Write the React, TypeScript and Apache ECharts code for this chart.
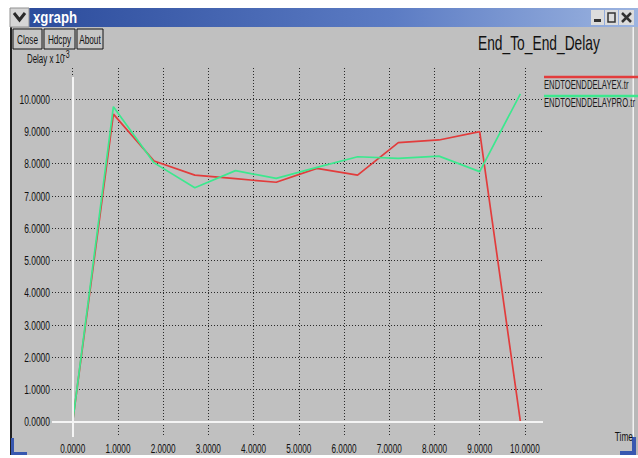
import React, { useEffect, useRef } from "react";
import * as echarts from "echarts";

// ---- data ----
const times = [0, 0.9, 1.8, 2.7, 3.6, 4.5, 5.4, 6.3, 7.2, 8.1, 9.0, 9.9];
const delayEX = [0, 9.53, 8.08, 7.64, 7.53, 7.42, 7.85, 7.64, 8.65, 8.73, 8.99, 0];
const delayPRO = [0, 9.76, 8.02, 7.25, 7.78, 7.54, 7.88, 8.21, 8.16, 8.23, 7.75, 10.16];
const seriesNames = ["ENDTOENDDELAYEX.tr", "ENDTOENDDELAYPRO.tr"];
const seriesColors = ["#e23c3c", "#3ce88e"];
const xTicks = [0, 1, 2, 3, 4, 5, 6, 7, 8, 9, 10];
const yTicks = [0, 1, 2, 3, 4, 5, 6, 7, 8, 9, 10];
const buttonLabels = ["Close", "Hdcpy", "About"];
const chartTitle = "End_To_End_Delay";
const windowTitle = "xgraph";
const xName = "Time";
const yName = "Delay x 10";
const yNameExp = "-3";

const FONT = "'Liberation Sans', Arial, sans-serif";
const NARROW = 0.7;

export default function App() {
  const ref = useRef<HTMLDivElement>(null);

  useEffect(() => {
    if (!ref.current) return;
    const chart = echarts.init(ref.current, undefined, { renderer: "svg" });

    const xMin = -0.458;
    const xMax = 10.4;
    const yMin = -0.474;
    const yMax = 10.96;
    const gridLeft = 52;
    const gridBottom = 21;
    const H = 458;

    const splitStyle = { color: "#2a2a2a", width: 1, type: [1, 2] as any };

    chart.setOption({
      animation: false,
      backgroundColor: "#c0c0c0",
      textStyle: { fontFamily: FONT },
      grid: { left: gridLeft, right: 95, top: 68, bottom: gridBottom, containLabel: false },
      xAxis: {
        type: "value",
        min: xMin,
        max: xMax,
        axisLine: { show: false },
        axisTick: { show: false, customValues: xTicks },
        axisLabel: { show: false, customValues: xTicks },
        splitLine: { show: true, lineStyle: splitStyle },
      },
      yAxis: {
        type: "value",
        min: yMin,
        max: yMax,
        axisLine: { show: false },
        axisTick: { show: false, customValues: yTicks },
        axisLabel: { show: false, customValues: yTicks },
        splitLine: { show: true, lineStyle: splitStyle },
      },
      series: [
        {
          type: "line",
          data: [],
          z: 1,
          silent: true,
          markLine: {
            silent: true,
            symbol: "none",
            label: { show: false },
            lineStyle: { color: "#f4f4f4", type: "solid", width: 2 },
            data: [
              { yAxis: 0 },
              [{ coord: [0, yMin] }, { coord: [0, 10.68] }],
            ],
          },
        },
        ...seriesNames.map((name, i) => ({
          name,
          type: "line",
          z: 3,
          data: times.map((t, j) => [t, i === 0 ? delayEX[j] : delayPRO[j]]),
          symbol: "none",
          lineStyle: { color: seriesColors[i], width: 1.7 },
        })),
      ],
    });

    const narrowText = (text: string, x: number, y: number, size: number, align: string, scale = NARROW, extra: any = {}) => ({
      type: "text",
      x,
      y,
      scaleX: scale,
      z: 50,
      style: { text, fill: "#111111", font: `${size}px ${FONT}`, align, verticalAlign: "middle", ...extra },
    });

    const btnX = [13, 44, 77];
    const btnW = [29, 31, 26];

    const graphic: any[] = [
      // page white margins
      { type: "rect", shape: { x: 0, y: 0, width: 638, height: 8 }, style: { fill: "#ffffff" } },
      { type: "rect", shape: { x: 0, y: 0, width: 10, height: 458 }, style: { fill: "#ffffff" } },
      { type: "rect", shape: { x: 0, y: 455, width: 638, height: 3 }, style: { fill: "#ffffff" } },
      // left frame
      { type: "rect", shape: { x: 10, y: 27, width: 2, height: 428 }, style: { fill: "#202020" } },
      // right frame
      { type: "rect", shape: { x: 632.5, y: 27, width: 1.5, height: 428 }, style: { fill: "#f2f2f2" } },
      { type: "rect", shape: { x: 634, y: 27, width: 4, height: 428 }, style: { fill: "#b8b8b8" } },
      // title bar
      {
        type: "rect",
        shape: { x: 29, y: 8, width: 609, height: 19 },
        style: {
          fill: {
            type: "linear", x: 0, y: 0, x2: 1, y2: 0,
            colorStops: [
              { offset: 0, color: "#2c4c9c" },
              { offset: 0.6, color: "#5c7cc4" },
              { offset: 1, color: "#9cb4e0" },
            ],
          },
        },
      },
      { type: "rect", shape: { x: 10, y: 8, width: 19, height: 19 }, style: { fill: "#d6d6d6", stroke: "#909090", lineWidth: 1 } },
      { type: "polyline", shape: { points: [[14, 13], [19.5, 20], [25, 13]] }, style: { stroke: "#2a2a2a", lineWidth: 3, fill: "none" } },
      narrowText(windowTitle, 33, 17, 17, "left", 0.78, { fill: "#ffffff", font: `bold 17px ${FONT}` }),
      // window buttons
      { type: "rect", shape: { x: 591, y: 10, width: 13, height: 15 }, style: { fill: "#dcdcdc" } },
      { type: "rect", shape: { x: 605, y: 10, width: 13, height: 15 }, style: { fill: "#dcdcdc" } },
      { type: "rect", shape: { x: 619, y: 10, width: 15, height: 15 }, style: { fill: "#dcdcdc" } },
      { type: "rect", shape: { x: 594, y: 19, width: 7, height: 3 }, style: { fill: "#333333" } },
      { type: "rect", shape: { x: 608, y: 13, width: 7, height: 9 }, style: { fill: "none", stroke: "#333333", lineWidth: 1.5 } },
      { type: "line", shape: { x1: 622, y1: 13, x2: 631, y2: 22 }, style: { stroke: "#333333", lineWidth: 2.5 } },
      { type: "line", shape: { x1: 631, y1: 13, x2: 622, y2: 22 }, style: { stroke: "#333333", lineWidth: 2.5 } },
      // bottom resize corners
      { type: "rect", shape: { x: 11, y: 438, width: 3, height: 17 }, style: { fill: "#3858b0" } },
      { type: "rect", shape: { x: 11, y: 452, width: 16, height: 3 }, style: { fill: "#3858b0" } },
      { type: "rect", shape: { x: 632, y: 437, width: 4, height: 18 }, style: { fill: "#3858b0" } },
      { type: "rect", shape: { x: 620, y: 451, width: 16, height: 4 }, style: { fill: "#3858b0" } },
      // titles
      narrowText(chartTitle, 478, 43, 20, "left", 0.69),
      narrowText(yName, 27, 59, 12, "left", 0.66),
      narrowText(yNameExp, 27 + 0.66 * 55, 55, 10, "left", 0.7),
      narrowText(xName, 633, 436, 13, "right", 0.64),
    ];

    buttonLabels.forEach((label, i) => {
      graphic.push({
        type: "rect",
        shape: { x: btnX[i], y: 29, width: btnW[i], height: 20 },
        style: { fill: "#c6c6c6", stroke: "#151515", lineWidth: 1 },
      });
      graphic.push(narrowText(label, btnX[i] + btnW[i] / 2, 39.5, 13, "center", 0.63));
    });

    seriesNames.forEach((name, i) => {
      graphic.push({
        type: "line",
        shape: { x1: 544, y1: 77 + 19 * i, x2: 638, y2: 77 + 19 * i },
        style: { stroke: seriesColors[i], lineWidth: 2.5 },
      });
      graphic.push(narrowText(name, 544, 85 + 18 * i, 12, "left", 0.64, { fill: "#1a1a1a" }));
    });

    // axis tick labels, positioned through the axes' own scales
    const xLabelY = H - gridBottom + 11;
    xTicks.forEach((v) => {
      const px = chart.convertToPixel({ xAxisIndex: 0 }, v) as number;
      graphic.push(narrowText(v.toFixed(4), px, xLabelY, 13, "center", 0.63));
    });
    yTicks.forEach((v) => {
      const py = chart.convertToPixel({ yAxisIndex: 0 }, v) as number;
      graphic.push(narrowText(v.toFixed(4), gridLeft - 2, py, 13, "right", 0.65));
    });

    chart.setOption({ graphic });

    return () => chart.dispose();
  }, []);

  return <div ref={ref} style={{ position: "absolute", left: 0, top: 0, width: 638, height: 458 }} />;
}
